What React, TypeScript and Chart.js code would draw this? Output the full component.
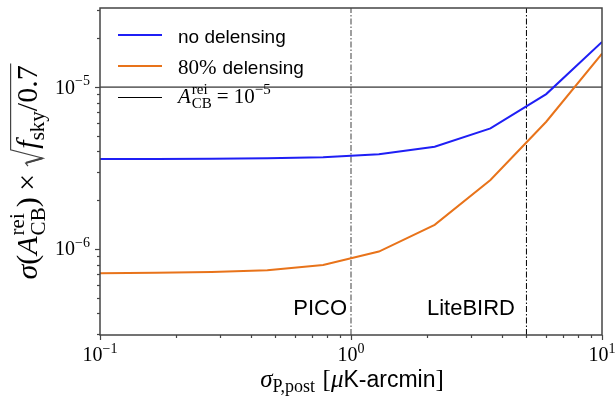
import React, { useEffect, useRef } from "react";
import { Chart, registerables } from "chart.js";

Chart.register(...registerables);

// ---- data ----
const sigmaP = [0.1, 0.1668, 0.2783, 0.4642, 0.7743, 1.2915, 2.1544, 3.5938, 5.9948, 10];
const noDelensing = [3.59e-6, 3.6e-6, 3.61e-6, 3.63e-6, 3.68e-6, 3.85e-6, 4.28e-6, 5.56e-6, 9.05e-6, 1.9e-5];
const delensing80 = [7.08e-7, 7.12e-7, 7.2e-7, 7.39e-7, 7.96e-7, 9.63e-7, 1.41e-6, 2.67e-6, 6.11e-6, 1.61e-5];
const referenceLevel = 1e-5;
const xLimits = [0.1, 10];
const yLimits = [2.94e-7, 3.08e-5];
const experiments = ["PICO", "LiteBIRD"];
const experimentNoise = [1, 5];
const experimentLabelX = [0.965, 4.5];
const experimentLabelY = 3.92e-7;
const xTickExponents = [-1, 0, 1];
const yTickExponents = [-6, -5];
const seriesLabels = ["no delensing", "80% delensing"];

const BLUE = "#1f1ff5";
const ORANGE = "#e8731a";
const SERIF = '"Liberation Serif", "DejaVu Serif", serif';
const SANS = '"Liberation Sans", "DejaVu Sans", sans-serif';

type Run =
  | { kind: "text"; t: string; font: string; dy?: number }
  | { kind: "gap"; w: number }
  | { kind: "stack"; sup: string; sub: string; font: string; supDy: number; subDy: number }
  | { kind: "sqrt"; inner: Run[]; size: number };

function runWidth(ctx: CanvasRenderingContext2D, r: Run): number {
  if (r.kind === "text") {
    ctx.font = r.font;
    return ctx.measureText(r.t).width;
  }
  if (r.kind === "gap") return r.w;
  if (r.kind === "stack") {
    ctx.font = r.font;
    return Math.max(ctx.measureText(r.sup).width, ctx.measureText(r.sub).width);
  }
  return r.size * 0.62 + listWidth(ctx, r.inner) + r.size * 0.06;
}

function listWidth(ctx: CanvasRenderingContext2D, runs: Run[]): number {
  return runs.reduce((s, r) => s + runWidth(ctx, r), 0);
}

function drawList(ctx: CanvasRenderingContext2D, runs: Run[], x: number, y: number) {
  ctx.textAlign = "left";
  ctx.textBaseline = "alphabetic";
  for (const r of runs) {
    const w = runWidth(ctx, r);
    if (r.kind === "text") {
      ctx.font = r.font;
      ctx.fillText(r.t, x, y + (r.dy || 0));
    } else if (r.kind === "stack") {
      ctx.font = r.font;
      ctx.fillText(r.sup, x, y + r.supDy);
      ctx.fillText(r.sub, x, y + r.subDy);
    } else if (r.kind === "sqrt") {
      const s = r.size;
      const iw = listWidth(ctx, r.inner);
      ctx.save();
      ctx.lineWidth = Math.max(1, s * 0.04);
      ctx.lineJoin = "miter";
      ctx.beginPath();
      ctx.moveTo(x + 0.04 * s, y - 0.3 * s);
      ctx.lineTo(x + 0.14 * s, y - 0.38 * s);
      ctx.lineTo(x + 0.3 * s, y + 0.2 * s);
      ctx.lineTo(x + 0.58 * s, y - 0.88 * s);
      ctx.lineTo(x + 0.62 * s + iw + 0.06 * s, y - 0.88 * s);
      ctx.stroke();
      ctx.lineWidth = Math.max(1.5, s * 0.075);
      ctx.beginPath();
      ctx.moveTo(x + 0.15 * s, y - 0.36 * s);
      ctx.lineTo(x + 0.3 * s, y + 0.18 * s);
      ctx.stroke();
      ctx.restore();
      drawList(ctx, r.inner, x + 0.62 * s, y);
    }
    x += w;
  }
}

function powerRuns(exp: number, size: number): Run[] {
  const e = exp < 0 ? "\u2212" + Math.abs(exp) : String(exp);
  return [
    { kind: "text", t: "10", font: `${size}px ${SERIF}` },
    { kind: "text", t: e, font: `${Math.round(size * 0.7)}px ${SERIF}`, dy: -size * 0.42 },
  ];
}

const decorPlugin = {
  id: "decor",
  afterDraw(chart: any) {
    const ctx: CanvasRenderingContext2D = chart.ctx;
    const { left, right, top, bottom } = chart.chartArea;
    const xs = chart.scales.x;
    const ys = chart.scales.y;
    ctx.save();
    ctx.fillStyle = "#000";
    ctx.strokeStyle = "#000";

    // experiment labels
    experiments.forEach((name, i) => {
      ctx.font = `22px ${SANS}`;
      ctx.textAlign = "right";
      ctx.textBaseline = "alphabetic";
      ctx.fillText(name, xs.getPixelForValue(experimentLabelX[i]), ys.getPixelForValue(experimentLabelY));
    });

    // spines
    ctx.strokeStyle = "#444";
    ctx.lineWidth = 1.5;
    ctx.strokeRect(left, top, right - left, bottom - top);

    // ticks
    ctx.lineWidth = 1.2;
    for (let d = -2; d <= 1; d++) {
      for (let m = 1; m <= 9; m++) {
        const v = m * Math.pow(10, d);
        if (v < xLimits[0] * 0.999 || v > xLimits[1] * 1.001) continue;
        const px = Math.round(xs.getPixelForValue(v)) + 0.5;
        const len = m === 1 ? 5 : 3;
        ctx.beginPath();
        ctx.moveTo(px, bottom);
        ctx.lineTo(px, bottom + len);
        ctx.stroke();
      }
    }
    for (let d = -8; d <= -4; d++) {
      for (let m = 1; m <= 9; m++) {
        const v = m * Math.pow(10, d);
        if (v < yLimits[0] || v > yLimits[1]) continue;
        const py = Math.round(ys.getPixelForValue(v)) + 0.5;
        const len = m === 1 ? 5 : 3;
        ctx.beginPath();
        ctx.moveTo(left, py);
        ctx.lineTo(left - len, py);
        ctx.stroke();
      }
    }

    // tick labels
    ctx.fillStyle = "#000";
    xTickExponents.forEach((e) => {
      const runs = powerRuns(e, 20);
      const w = listWidth(ctx, runs);
      const px = xs.getPixelForValue(Math.pow(10, e));
      drawList(ctx, runs, px - w / 2, bottom + 26);
    });
    yTickExponents.forEach((e) => {
      const runs = powerRuns(e, 20);
      const w = listWidth(ctx, runs);
      const py = ys.getPixelForValue(Math.pow(10, e));
      drawList(ctx, runs, left - 10 - w, py + 6.5);
    });

    // x axis label
    const FX = 25;
    const xl: Run[] = [
      { kind: "text", t: "\u03c3", font: `italic ${FX}px ${SERIF}` },
      { kind: "text", t: "P,post", font: `${Math.round(FX * 0.7)}px ${SERIF}`, dy: FX * 0.2 },
      { kind: "gap", w: FX * 0.3 },
      { kind: "text", t: "[", font: `${FX}px ${SERIF}` },
      { kind: "text", t: "\u03bc", font: `italic ${FX}px ${SERIF}` },
      { kind: "text", t: "K-arcmin", font: `${FX - 2}px ${SANS}` },
      { kind: "text", t: "]", font: `${FX}px ${SERIF}` },
    ];
    const xlw = listWidth(ctx, xl);
    drawList(ctx, xl, (left + right) / 2 - xlw / 2 + 1, 387);

    // y axis label
    const FY = 30;
    const yl: Run[] = [
      { kind: "text", t: "\u03c3", font: `italic ${FY}px ${SERIF}` },
      { kind: "text", t: "(", font: `${FY}px ${SERIF}` },
      { kind: "text", t: "A", font: `italic ${FY}px ${SERIF}` },
      { kind: "gap", w: 1 },
      { kind: "stack", sup: "rei", sub: "CB", font: `${Math.round(FY * 0.7)}px ${SERIF}`, supDy: -FY * 0.42, subDy: FY * 0.28 },
      { kind: "text", t: ")", font: `${FY}px ${SERIF}` },
      { kind: "gap", w: FY * 0.22 },
      { kind: "text", t: "\u00d7", font: `${FY}px ${SERIF}` },
      { kind: "gap", w: FY * 0.22 },
      {
        kind: "sqrt",
        size: FY,
        inner: [
          { kind: "text", t: "f", font: `italic ${FY}px ${SERIF}` },
          { kind: "text", t: "sky", font: `${Math.round(FY * 0.7)}px ${SERIF}`, dy: FY * 0.22 },
          { kind: "text", t: "/0.7", font: `${FY}px ${SERIF}` },
        ],
      },
    ];
    const ylw = listWidth(ctx, yl);
    ctx.save();
    ctx.translate(37, (top + bottom) / 2);
    ctx.rotate(-Math.PI / 2);
    drawList(ctx, yl, -ylw / 2, 0);
    ctx.restore();

    // legend
    const legendX0 = left + 18;
    const legendX1 = left + 62;
    const textX = left + 78;
    const rows = [35, 66, 97.5];
    const colors = [BLUE, ORANGE, "#000"];
    const widths = [2, 2, 1];
    rows.forEach((ry, i) => {
      ctx.strokeStyle = colors[i];
      ctx.lineWidth = widths[i];
      ctx.beginPath();
      ctx.moveTo(legendX0, ry);
      ctx.lineTo(legendX1, ry);
      ctx.stroke();
    });
    ctx.fillStyle = "#000";
    drawList(ctx, [{ kind: "text", t: seriesLabels[0], font: `19px ${SANS}` }], textX, rows[0] + 7.5);
    const pct = seriesLabels[1].split(" ");
    drawList(
      ctx,
      [
        { kind: "text", t: pct[0], font: `21px ${SERIF}` },
        { kind: "gap", w: 6 },
        { kind: "text", t: pct.slice(1).join(" "), font: `19px ${SANS}` },
      ],
      textX,
      rows[1] + 7.5
    );
    drawList(
      ctx,
      [
        { kind: "text", t: "A", font: `italic 21px ${SERIF}` },
        { kind: "gap", w: 1 },
        { kind: "stack", sup: "rei", sub: "CB", font: `15px ${SERIF}`, supDy: -9, subDy: 5 },
        { kind: "gap", w: 5 },
        { kind: "text", t: "=", font: `21px ${SERIF}` },
        { kind: "gap", w: 5 },
        ...powerRuns(Math.log10(referenceLevel), 21),
      ],
      textX,
      rows[2] + 5.5
    );

    ctx.restore();
  },
};

export default function App() {
  const ref = useRef<HTMLCanvasElement | null>(null);
  useEffect(() => {
    if (!ref.current) return;
    const chart = new Chart(ref.current, {
      type: "line",
      data: {
        datasets: [
          {
            label: seriesLabels[0],
            data: sigmaP.map((x, i) => ({ x, y: noDelensing[i] })),
            borderColor: BLUE,
            borderWidth: 2,
            pointRadius: 0,
            tension: 0,
          },
          {
            label: seriesLabels[1],
            data: sigmaP.map((x, i) => ({ x, y: delensing80[i] })),
            borderColor: ORANGE,
            borderWidth: 2,
            pointRadius: 0,
            tension: 0,
          },
          {
            label: "reference",
            data: [
              { x: xLimits[0], y: referenceLevel },
              { x: xLimits[1], y: referenceLevel },
            ],
            borderColor: "#000",
            borderWidth: 1,
            pointRadius: 0,
          },
          {
            label: experiments[0],
            data: [
              { x: experimentNoise[0], y: yLimits[0] },
              { x: experimentNoise[0], y: yLimits[1] },
            ],
            borderColor: "#888",
            borderWidth: 1.6,
            borderDash: [6, 2, 1.5, 2],
            pointRadius: 0,
          },
          {
            label: experiments[1],
            data: [
              { x: experimentNoise[1], y: yLimits[0] },
              { x: experimentNoise[1], y: yLimits[1] },
            ],
            borderColor: "#000",
            borderWidth: 1,
            borderDash: [6, 2, 1.5, 2],
            pointRadius: 0,
          },
        ],
      },
      options: {
        animation: false,
        responsive: false,
        maintainAspectRatio: false,
        layout: { padding: { left: 100, right: 14, top: 8, bottom: 63 } },
        plugins: { legend: { display: false }, tooltip: { enabled: false } },
        scales: {
          x: { type: "logarithmic", min: xLimits[0], max: xLimits[1], display: false },
          y: { type: "logarithmic", min: yLimits[0], max: yLimits[1], display: false },
        },
      },
      plugins: [decorPlugin],
    });
    return () => chart.destroy();
  }, []);
  return (
    <div style={{ position: "fixed", left: 0, top: 0, width: 616, height: 398, background: "#fff" }}>
      <canvas ref={ref} width={616} height={398} style={{ display: "block" }} />
    </div>
  );
}
